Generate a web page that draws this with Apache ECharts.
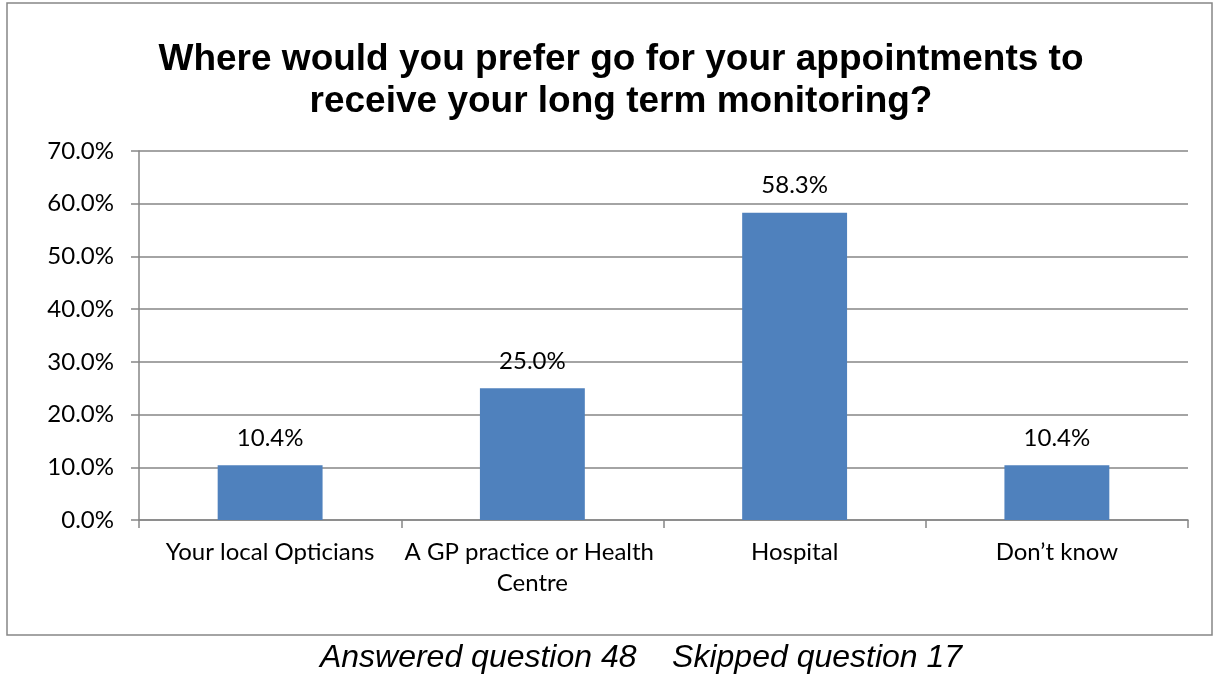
<!DOCTYPE html>
<html>
<head>
<meta charset="utf-8">
<script src="https://cdn.jsdelivr.net/npm/echarts@6/dist/echarts.min.js"></script>
<style>
  html, body { margin: 0; padding: 0; background: #ffffff; }
  #chart { width: 1214px; height: 674px; }
</style>
</head>
<body>
<div id="chart"></div>
<script>
// Survey answers: preferred place for long-term monitoring appointments
const categories = ['Your local Opticians', 'A GP practice or Health Centre', 'Hospital', 'Don\u2019t know'];
const percentages = [10.4, 25.0, 58.3, 10.4];
const titleLines = ['Where would you prefer go for your appointments to', 'receive your long term monitoring?'];
const footnote = 'Answered question 48    Skipped question 17';

const chart = echarts.init(document.getElementById('chart'), null, { renderer: 'canvas' });
const gridColor = '#868686';
const labelFont = 'Lato, "Open Sans", sans-serif';

chart.setOption({
  backgroundColor: '#ffffff',
  animation: false,
  title: {
    text: titleLines.join('\n'),
    left: 616,
    top: 34,
    textAlign: 'center',
    textStyle: {
      fontFamily: '"Liberation Sans", Arial, sans-serif',
      fontWeight: 'bold',
      fontSize: 37,
      lineHeight: 42,
      color: '#000000'
    }
  },
  graphic: [
    {
      type: 'rect',
      shape: { x: 7, y: 3, width: 1205, height: 632 },
      style: { fill: 'none', stroke: gridColor, lineWidth: 1.5 },
      z: -1
    },
    {
      type: 'text',
      x: 641,
      y: 658,
      style: {
        text: footnote,
        align: 'center',
        verticalAlign: 'middle',
        fontFamily: '"Liberation Sans", Arial, sans-serif',
        fontStyle: 'italic',
        fontSize: 32,
        fill: '#000000'
      }
    }
  ],
  grid: { left: 139, right: 26, top: 151, bottom: 154, containLabel: false },
  xAxis: {
    type: 'category',
    data: categories,
    axisLine: { show: true, lineStyle: { color: gridColor, width: 1.5 } },
    axisTick: { show: true, length: 8, alignWithLabel: false, lineStyle: { color: gridColor, width: 1.5 } },
    axisLabel: {
      color: '#000000',
      fontFamily: labelFont,
      fontSize: 24,
      lineHeight: 31,
      margin: 17,
      width: 258,
      overflow: 'break',
      interval: 0
    }
  },
  yAxis: {
    type: 'value',
    min: 0,
    max: 70,
    interval: 10,
    axisLine: { show: true, lineStyle: { color: gridColor, width: 1.5 } },
    axisTick: { show: true, length: 8, inside: false, lineStyle: { color: gridColor, width: 1.5 } },
    splitLine: { show: true, lineStyle: { color: gridColor, width: 1.5 } },
    axisLabel: {
      color: '#000000',
      fontFamily: labelFont,
      fontSize: 24,
      margin: 25,
      formatter: v => v.toFixed(1) + '%'
    }
  },
  series: [{
    type: 'bar',
    data: percentages,
    barWidth: '40%',
    itemStyle: { color: '#4F81BD' },
    label: {
      show: true,
      position: 'top',
      distance: 15,
      color: '#000000',
      fontFamily: labelFont,
      fontSize: 24,
      formatter: p => p.value.toFixed(1) + '%'
    }
  }]
});
</script>
</body>
</html>
